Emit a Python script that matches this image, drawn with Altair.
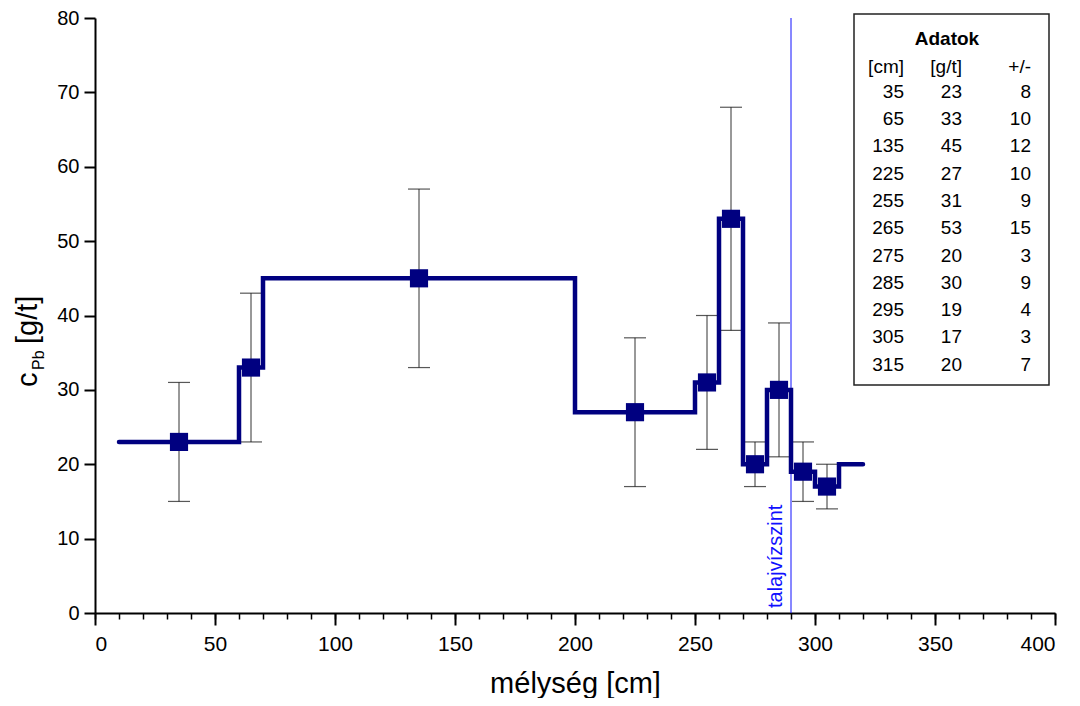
import altair as alt
import pandas as pd

# ---- data ----
depth = [35, 65, 135, 225, 255, 265, 275, 285, 295, 305, 315]
conc = [23, 33, 45, 27, 31, 53, 20, 30, 19, 17, 20]
err = [8, 10, 12, 10, 9, 15, 3, 9, 4, 3, 7]
layer_top = [10, 60, 70, 200, 250, 260, 270, 280, 290, 300, 310]
layer_bottom = [60, 70, 200, 250, 260, 270, 280, 290, 300, 310, 320]
n_marked = 10  # samples drawn with a marker and error bar
water_table = 290
water_label = "talajvízszint"
x_major = [0, 50, 100, 150, 200, 250, 300, 350, 400]
x_minor = list(range(0, 401, 10))
y_ticks = [0, 10, 20, 30, 40, 50, 60, 70, 80]
x_title = "mélység [cm]"
y_title_main = "c"
y_title_sub = "Pb"
y_title_unit = "[g/t]"
table_title = "Adatok"
table_header = ["[cm]", "[g/t]", "+/-"]

FONT = "Liberation Sans"
NAVY = "#000080"
ERRC = "#333333"

df = pd.DataFrame({"depth": depth, "conc": conc, "err": err})
df["lo"] = df["conc"] - df["err"]
df["hi"] = df["conc"] + df["err"]
pts = df.iloc[:n_marked]

step = pd.DataFrame({"x": layer_top + [layer_bottom[-1]],
                     "y": conc + [conc[-1]]})

xs = alt.Scale(domain=[0, 400], nice=False)
ys = alt.Scale(domain=[0, 80], nice=False)

x_axis_main = alt.Axis(orient="bottom", values=x_major, tickSize=12, labelPadding=8,
                       title=x_title, titleFontSize=29, titleFontWeight="normal",
                       titlePadding=15, format="d", labelFontSize=21)
x_axis_minor = alt.Axis(orient="bottom", values=x_minor, tickSize=6, labels=False,
                        domain=False, title=None, tickWidth=1.5)
y_axis = alt.Axis(values=y_ticks, tickSize=11, labelPadding=5, title=None, format="d",
                  labelFontSize=20)

err_rule = alt.Chart(pts).mark_rule(color=ERRC, strokeWidth=1).encode(
    x=alt.X("depth:Q", scale=xs, axis=x_axis_minor),
    y=alt.Y("lo:Q", scale=ys, axis=y_axis),
    y2="hi:Q",
)
cap_lo = alt.Chart(pts).mark_tick(orient="horizontal", size=22, thickness=1.2,
                                  color="#111111").encode(
    x=alt.X("depth:Q", scale=xs, axis=None),
    y=alt.Y("lo:Q", scale=ys, axis=y_axis),
)
cap_hi = alt.Chart(pts).mark_tick(orient="horizontal", size=22, thickness=1.2,
                                  color="#111111").encode(
    x=alt.X("depth:Q", scale=xs, axis=None),
    y=alt.Y("hi:Q", scale=ys, axis=y_axis),
)
water = alt.Chart(pd.DataFrame({"d": [water_table]})).mark_rule(
    color="#1010ff", strokeWidth=1).encode(
    x=alt.X("d:Q", scale=xs, axis=None),
    y=alt.YDatum(0, scale=ys, axis=y_axis),
    y2=alt.Y2Datum(80),
)
water_text = alt.Chart(pd.DataFrame({"d": [water_table], "t": [water_label]})).mark_text(
    angle=270, align="left", baseline="alphabetic", dy=-9, font=FONT,
    fontSize=20, color="#1010ff").encode(
    x=alt.X("d:Q", scale=xs, axis=None),
    y=alt.value(590),
    text="t:N",
)
line = alt.Chart(step).mark_line(interpolate="step-after", color=NAVY,
                                 strokeWidth=4.5, strokeCap="round").encode(
    x=alt.X("x:Q", scale=xs, axis=x_axis_main),
    y=alt.Y("y:Q", scale=ys, axis=y_axis),
)
squares = alt.Chart(pts).mark_square(size=330, color=NAVY, opacity=1).encode(
    x=alt.X("depth:Q", scale=xs, axis=None),
    y=alt.Y("conc:Q", scale=ys, axis=y_axis),
)

# y-axis title with subscript
yt_c = alt.Chart(pd.DataFrame({"t": [y_title_main]})).mark_text(
    angle=270, align="left", baseline="alphabetic", font=FONT, fontSize=29).encode(
    x=alt.value(-58), y=alt.value(369), text="t:N")
yt_s = alt.Chart(pd.DataFrame({"t": [y_title_sub]})).mark_text(
    angle=270, align="left", baseline="alphabetic", font=FONT, fontSize=16).encode(
    x=alt.value(-51), y=alt.value(352), text="t:N")
yt_u = alt.Chart(pd.DataFrame({"t": [y_title_unit]})).mark_text(
    angle=270, align="left", baseline="alphabetic", font=FONT, fontSize=29).encode(
    x=alt.value(-58), y=alt.value(326), text="t:N")

# data table box
box = alt.Chart(pd.DataFrame({"a": [0]})).mark_rect(
    fill="white", stroke="#222222", strokeWidth=1.5).encode(
    x=alt.value(759), x2=alt.value(954), y=alt.value(-4), y2=alt.value(367))
tt = alt.Chart(pd.DataFrame({"t": [table_title]})).mark_text(
    font=FONT, fontSize=19, fontWeight="bold", baseline="middle", align="center").encode(
    x=alt.value(852), y=alt.value(21), text="t:N")
hdr = pd.DataFrame({"t": table_header, "xp": [809, 867, 936]})
hd = alt.Chart(hdr).mark_text(font=FONT, fontSize=19, baseline="middle",
                              align="right").encode(
    x=alt.X("xp:Q", scale=None, axis=None), y=alt.value(49), text="t:N")

tbl_base = alt.Chart(df).transform_window(row="row_number()").transform_calculate(
    ypix="73.7 + (datum.row - 1) * 27.3")
col_layers = []
for field, xp in [("depth", 809), ("conc", 867), ("err", 936)]:
    col_layers.append(tbl_base.mark_text(font=FONT, fontSize=19, baseline="middle",
                                         align="right").encode(
        x=alt.value(xp), y=alt.Y("ypix:Q", scale=None, axis=None),
        text=alt.Text(f"{field}:Q", format="d")))

chart = alt.layer(err_rule, cap_lo, cap_hi, water, water_text, line, squares,
                  yt_c, yt_s, yt_u, box, tt, hd, *col_layers).resolve_axis(
    x="independent").properties(
    width=960, height=595,
    autosize=alt.AutoSizeParams(type="none"),
    padding={"left": 87, "top": 10, "right": 15, "bottom": 85},
).configure_view(stroke=None).configure_axis(
    grid=False, domainColor="black", domainWidth=2, tickColor="black", tickWidth=2,
    labelFont=FONT, labelColor="black", titleFont=FONT,
    titleColor="black",
)

chart.save("out.html", embed_options={"renderer": "svg", "actions": False})
